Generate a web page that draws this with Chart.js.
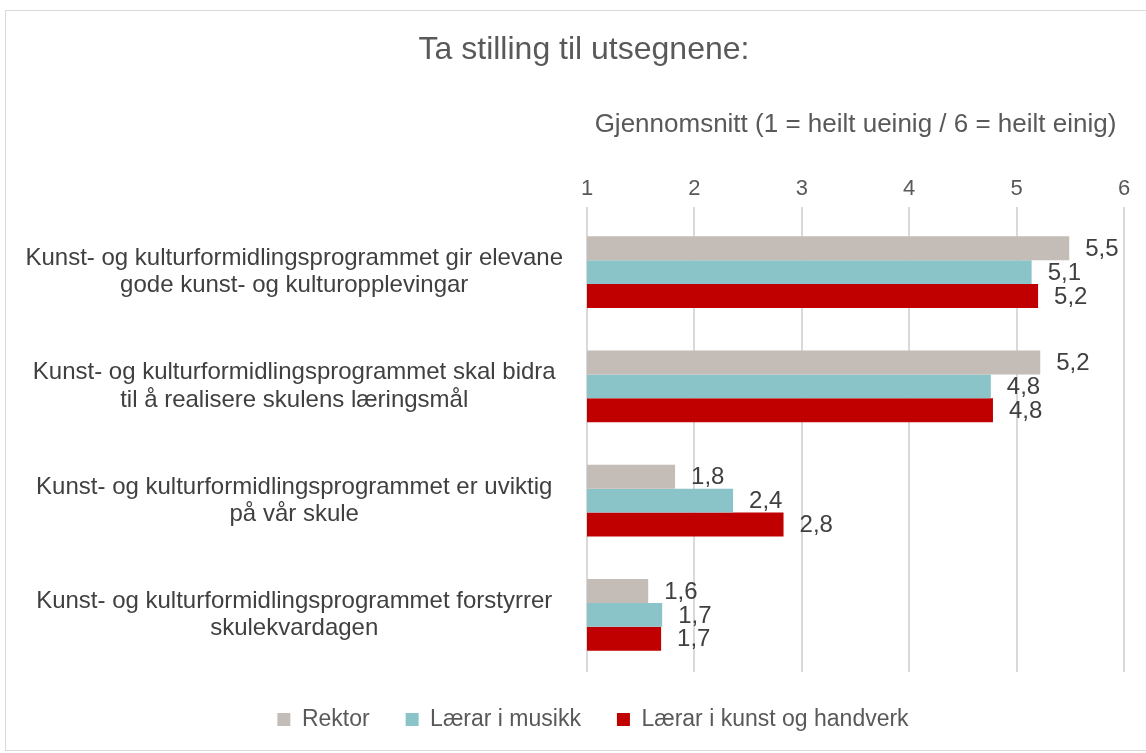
<!DOCTYPE html>
<html lang="nn">
<head>
    <meta charset="UTF-8">
    <title>Ta stilling til utsegnene</title>
    <script src="https://cdn.jsdelivr.net/npm/chart.js"></script>
    <style>
        html, body { margin: 0; padding: 0; background: white; }
        .frame {
            position: absolute;
            left: 5px; top: 10px; right: -2px; bottom: 2px;
            border: 1px solid #d9d9d9;
        }
        .chart-container {
            position: absolute;
            left: 0; top: 0;
            width: 1146px;
            height: 753px;
        }
    </style>
</head>
<body>
    <div class="frame"></div>
    <div class="chart-container">
        <canvas id="surveyChart"></canvas>
    </div>

    <script>
        // categories (one label per statement, wrapped over two lines)
        const categories = [
            ['Kunst- og kulturformidlingsprogrammet gir elevane', 'gode kunst- og kulturopplevingar'],
            ['Kunst- og kulturformidlingsprogrammet skal bidra', 'til å realisere skulens læringsmål'],
            ['Kunst- og kulturformidlingsprogrammet er uviktig', 'på vår skule'],
            ['Kunst- og kulturformidlingsprogrammet forstyrrer', 'skulekvardagen']
        ];

        // average scores per group
        const rektor = [5.49, 5.22, 1.82, 1.57];
        const laerarMusikk = [5.14, 4.76, 2.36, 1.70];
        const laerarKunst = [5.20, 4.78, 2.83, 1.69];

        const tickValues = [1, 2, 3, 4, 5, 6];

        const fontFamily = '"Liberation Sans", Arial, sans-serif';
        const padLeft = 22;

        // draws the value next to the end of each bar, with decimal comma
        const valueLabels = {
            id: 'valueLabels',
            afterDatasetsDraw(chart) {
                const ctx = chart.ctx;
                ctx.save();
                ctx.font = '24px ' + fontFamily;
                ctx.fillStyle = '#404040';
                ctx.textAlign = 'left';
                ctx.textBaseline = 'middle';
                chart.data.datasets.forEach((ds, i) => {
                    const meta = chart.getDatasetMeta(i);
                    meta.data.forEach((bar, j) => {
                        const txt = ds.data[j].toFixed(1).replace('.', ',');
                        ctx.fillText(txt, bar.x + 16, bar.y + 1);
                    });
                });
                ctx.restore();
            }
        };

        // nudge title and legend a bit to the right, like in the original
        const shiftBoxes = {
            id: 'shiftBoxes',
            afterLayout(chart) {
                const t = chart.titleBlock;
                if (t) { t.left += 11; t.right += 11; }
                const l = chart.legend;
                if (l) { l.left += 20; l.right += 20; }
            }
        };

        const ctx = document.getElementById('surveyChart').getContext('2d');
        new Chart(ctx, {
            type: 'bar',
            data: {
                labels: categories,
                datasets: [
                    { label: 'Rektor', data: rektor, backgroundColor: '#c4bcb7' },
                    { label: 'Lærar i musikk', data: laerarMusikk, backgroundColor: '#8ac4c8' },
                    { label: 'Lærar i kunst og handverk', data: laerarKunst, backgroundColor: '#c00000' }
                ]
            },
            options: {
                indexAxis: 'y',
                responsive: true,
                maintainAspectRatio: false,
                animation: false,
                datasets: {
                    bar: { categoryPercentage: 0.63, barPercentage: 1.0, borderWidth: 0 }
                },
                layout: { padding: { top: 0, right: 22, bottom: 12, left: padLeft } },
                plugins: {
                    title: {
                        display: true,
                        text: 'Ta stilling til utsegnene:',
                        color: '#595959',
                        font: { family: fontFamily, size: 32, weight: 'normal' },
                        padding: { top: 31, bottom: 0 }
                    },
                    legend: {
                        position: 'bottom',
                        labels: {
                            color: '#595959',
                            font: { family: fontFamily, size: 23 },
                            boxWidth: 13,
                            boxHeight: 13,
                            padding: 36
                        }
                    },
                    tooltip: { enabled: false }
                },
                scales: {
                    x: {
                        position: 'top',
                        min: 1,
                        max: 6,
                        afterBuildTicks: scale => {
                            scale.ticks = tickValues.map(v => ({ value: v }));
                        },
                        ticks: {
                            color: '#595959',
                            font: { family: fontFamily, size: 22 },
                            padding: 5
                        },
                        grid: { color: '#d9d9d9', lineWidth: 2, drawTicks: true, tickLength: 8 },
                        border: { display: false },
                        title: {
                            display: true,
                            text: 'Gjennomsnitt (1 = heilt ueinig / 6 = heilt einig)',
                            color: '#595959',
                            font: { family: fontFamily, size: 26 },
                            padding: { top: 40, bottom: 30 }
                        }
                    },
                    y: {
                        afterFit: scale => { scale.width = 587 - padLeft; },
                        ticks: {
                            color: '#404040',
                            font: { family: fontFamily, size: 24, lineHeight: 1.13 },
                            crossAlign: 'center',
                            padding: 24
                        },
                        grid: { display: false, drawTicks: false },
                        border: { display: false }
                    }
                }
            },
            plugins: [valueLabels, shiftBoxes]
        });
    </script>
</body>
</html>
